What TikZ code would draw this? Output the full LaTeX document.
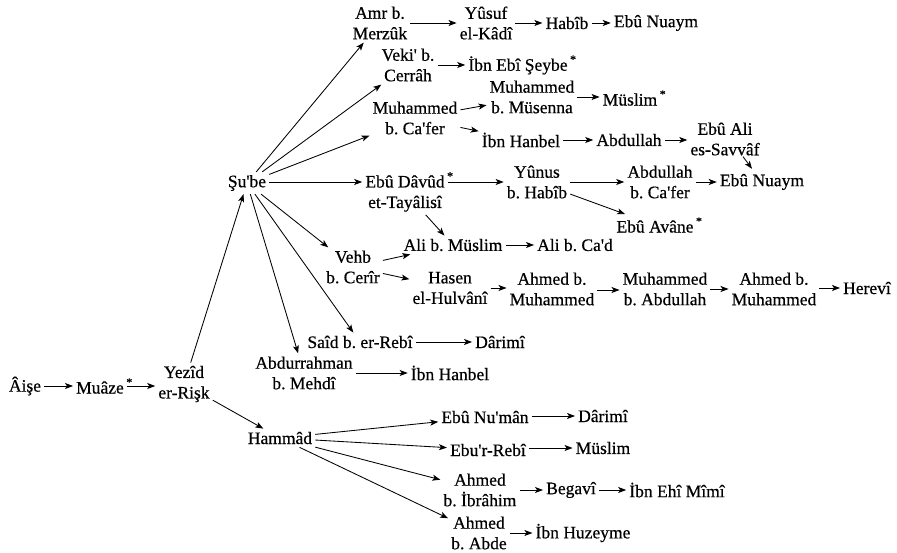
\documentclass[tikz,border=0pt]{standalone}
\usepackage{fontspec}
\newfontfamily\nfont{Liberation Serif}[FakeBold=0.5]
\usetikzlibrary{arrows.meta}
\frenchspacing
\newcommand\sstar{\rlap{\kern2.5pt\raisebox{0.42em}{\fontsize{12pt}{12pt}\selectfont *}}}
\newcommand\harr[3]{\draw[arr] (#1.east |- 0,#3) -- (#2.west |- 0,#3);}
\begin{document}
\begin{tikzpicture}[x=1pt,y=-1pt,
  n/.style={inner sep=3pt, align=center, font=\nfont\fontsize{17.5pt}{20.5pt}\selectfont\frenchspacing},
  arr/.style={-{Stealth[length=8pt,width=6pt,inset=2pt]}, line width=0.85pt}]
\fill[white] (0,0) rectangle (897,553);
\useasboundingbox (0,0) rectangle (897,553);
\node[n] (aise) at (25,386) {Âişe};
\node[n] (muaze) at (100,386) {Muâze\sstar};
\node[n] (yezid) at (184,384) {Yezîd\\er-Rişk};
\node[n] (sube) at (247,183) {Şu'be};
\node[n] (amr) at (380,23) {Amr b.\\Merzûk};
\node[n] (yusuf) at (486,23) {Yûsuf\\el-Kâdî};
\node[n] (habib) at (567,23) {Habîb};
\node[n] (ebunuaym1) at (656,23) {Ebû Nuaym};
\node[n] (veki) at (408,65) {Veki' b.\\Cerrâh};
\node[n] (ibnebiseybe) at (518,65) {İbn Ebî Şeybe\sstar};
\node[n] (muhmusenna) at (532,97) {Muhammed\\b. Müsenna};
\node[n] (muslim1) at (630,98) {Müslim\sstar};
\node[n] (muhcafer) at (415,118) {Muhammed\\b. Ca'fer};
\node[n] (ibnhanbel1) at (521,140) {İbn Hanbel};
\node[n] (abdullah1) at (629,140) {Abdullah};
\node[n] (ebuali) at (725,139) {Ebû Ali\\es-Savvâf};
\node[n] (ebudavud) at (405,192) {Ebû Dâvûd\sstar\\et-Tayâlisî};
\node[n] (yunus) at (537,182) {Yûnus\\b. Habîb};
\node[n] (abdcafer) at (660,182) {Abdullah\\b. Ca'fer};
\node[n] (ebunuaym2) at (762,182) {Ebû Nuaym};
\node[n] (ebuavane) at (655,225) {Ebû Avâne\sstar};
\node[n] (vehb) at (353,267) {Vehb\\b. Cerîr};
\node[n] (alimuslim) at (453,245) {Ali b. Müslim};
\node[n] (alicad) at (575,245) {Ali b. Ca'd};
\node[n] (hasen) at (450,288) {Hasen\\el-Hulvânî};
\node[n] (ahmedmuh1) at (552,289) {Ahmed b.\\Muhammed};
\node[n] (muhabd) at (665,289) {Muhammed\\b. Abdullah};
\node[n] (ahmedmuh2) at (774,289) {Ahmed b.\\Muhammed};
\node[n] (herevi) at (867,288) {Herevî};
\node[n] (said) at (360,342) {Saîd b. er-Rebî};
\node[n] (darimi1) at (500,342) {Dârimî};
\node[n] (abdurrahman) at (304,373) {Abdurrahman\\b. Mehdî};
\node[n] (ibnhanbel2) at (450,373) {İbn Hanbel};
\node[n] (hammad) at (280,438) {Hammâd};
\node[n] (ebunuman) at (485,417) {Ebû Nu'mân};
\node[n] (darimi2) at (603,416) {Dârimî};
\node[n] (eburrebi) at (488,450) {Ebu'r-Rebî};
\node[n] (muslim2) at (603,448) {Müslim};
\node[n] (ahmedibr) at (480,490) {Ahmed\\b. İbrâhim};
\node[n] (begavi) at (571,490) {Begavî};
\node[n] (ibnehi) at (677,490) {İbn Ehî Mîmî};
\node[n] (ahmedabde) at (479,533) {Ahmed\\b. Abde};
\node[n] (ibnhuzeyme) at (583,533) {İbn Huzeyme};
% horizontal arrows
\harr{aise}{muaze}{386}
\harr{muaze}{yezid}{386}
\harr{amr}{yusuf}{23}
\harr{yusuf}{habib}{23}
\harr{habib}{ebunuaym1}{23}
\harr{veki}{ibnebiseybe}{65}
\harr{muhmusenna}{muslim1}{97}
\harr{ibnhanbel1}{abdullah1}{140}
\harr{abdullah1}{ebuali}{140}
\harr{sube}{ebudavud}{182}
\harr{ebudavud}{yunus}{182}
\harr{yunus}{abdcafer}{182}
\harr{abdcafer}{ebunuaym2}{182}
\harr{alimuslim}{alicad}{245}
\harr{hasen}{ahmedmuh1}{288}
\harr{ahmedmuh1}{muhabd}{290}
\harr{muhabd}{ahmedmuh2}{289}
\harr{ahmedmuh2}{herevi}{288}
\harr{said}{darimi1}{342}
\harr{abdurrahman}{ibnhanbel2}{373}
\harr{ebunuman}{darimi2}{416}
\harr{eburrebi}{muslim2}{448}
\harr{ahmedibr}{begavi}{490}
\harr{begavi}{ibnehi}{490}
\harr{ahmedabde}{ibnhuzeyme}{533}
% slanted arrows
\draw[arr] (yezid) -- (sube);
\draw[arr] (yezid) -- (hammad);
\draw[arr] (sube) -- (amr);
\draw[arr] (sube) -- (veki);
\draw[arr] (sube) -- (muhcafer);
\draw[arr] (sube) -- (vehb);
\draw[arr] (sube) -- (said);
\draw[arr] (sube) -- (abdurrahman);
\draw[arr] (muhcafer) -- (muhmusenna);
\draw[arr] (muhcafer) -- (ibnhanbel1);
\draw[arr] ([xshift=18pt,yshift=2pt]ebuali.south) -- ([xshift=-10pt,yshift=2pt]ebunuaym2.north);
\draw[arr] (ebudavud) -- (alimuslim);
\draw[arr] (yunus) -- (ebuavane);
\draw[arr] (vehb) -- (alimuslim);
\draw[arr] (vehb) -- (hasen);
\draw[arr] (hammad) -- (ebunuman);
\draw[arr] (hammad) -- (eburrebi);
\draw[arr] (hammad) -- (ahmedibr);
\draw[arr] (hammad) -- (ahmedabde);
\end{tikzpicture}
\end{document}
